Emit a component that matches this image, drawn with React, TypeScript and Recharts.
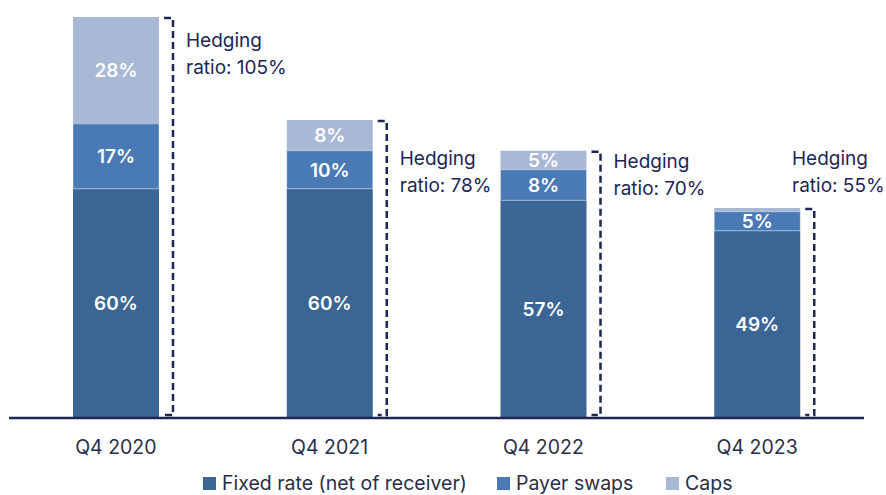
import React from 'react';
import { BarChart, Bar, XAxis, YAxis, LabelList } from 'recharts';

const quarters = ['Q4 2020', 'Q4 2021', 'Q4 2022', 'Q4 2023'];
const fixedRate = [60, 60, 57, 49];
const payerSwaps = [17, 10, 8, 5];
const caps = [28, 8, 5, 1];
const hedgingRatio = [105, 78, 70, 55];

const COLORS = {
  fixed: '#3b6594',
  payer: '#4a7ab6',
  caps: '#a8b8d5',
  navy: '#1d2655',
  text: '#2a2e48',
};

const FONT = 'Inter, "Noto Sans", sans-serif';
const W = 886;
const H = 495;

const data = quarters.map((q, i) => ({
  name: q,
  fixed: fixedRate[i],
  payer: payerSwaps[i],
  caps: caps[i],
  ratio: hedgingRatio[i],
}));

// fixed-rate segment plus the dashed bracket and "Hedging ratio" note
const FixedShape = (props: any) => {
  const { x, y, width, height, payload } = props;
  const base = y + height;
  const ppu = height / payload.fixed;
  const top = base - payload.ratio * ppu;
  const bx = x + width + 14;
  const tx = Math.min(bx + 13, W - 94);
  const level = base - 68 * ppu;
  let line1 = level;
  if (payload.ratio >= 100) line1 = top + 23;
  else if (top + 11 > level && top + 11 < level + 20) line1 = top + 11;
  return (
    <g>
      <rect x={x} y={y} width={width} height={height} fill={COLORS.fixed} />
      <path
        d={`M${x + width + 5},${top + 1} H${bx} V${base - 3} H${x + width + 5}`}
        fill="none"
        stroke={COLORS.navy}
        strokeWidth={2.5}
        strokeDasharray="7 4"
      />
      <text x={tx} y={line1} dominantBaseline="central" fill={COLORS.navy} fontSize={19} fontFamily={FONT}>
        Hedging
      </text>
      <text x={tx} y={line1 + 27} dominantBaseline="central" fill={COLORS.navy} fontSize={19} fontFamily={FONT}>
        {`ratio: ${payload.ratio}%`}
      </text>
    </g>
  );
};

const fmt = (v: any) => (Number(v) >= 3 ? `${v}%` : '');

const labelStyle = { fill: '#ffffff', fontSize: 19, fontWeight: 600, fontFamily: FONT };

const legendItems = [
  { name: 'Fixed rate (net of receiver)', color: COLORS.fixed, left: 203 },
  { name: 'Payer swaps', color: COLORS.payer, left: 497 },
  { name: 'Caps', color: COLORS.caps, left: 666 },
];

export default function App() {
  return (
    <div style={{ position: 'absolute', left: 0, top: 0, width: W, height: H, background: '#fff', overflow: 'hidden' }}>
      <BarChart width={W} height={H} data={data} margin={{ top: 17, right: 22, left: 9, bottom: 27 }}>
        <XAxis
          dataKey="name"
          height={50}
          tickLine={false}
          tickSize={0}
          tickMargin={22}
          axisLine={{ stroke: COLORS.navy, strokeWidth: 2.5 }}
          tick={{ fill: COLORS.text, fontSize: 19.5, fontFamily: FONT }}
        />
        <YAxis hide domain={[0, 105]} />
        <Bar dataKey="fixed" stackId="a" barSize={86} shape={FixedShape} isAnimationActive={false}>
          <LabelList dataKey="fixed" position="center" formatter={fmt} style={labelStyle} />
        </Bar>
        <Bar dataKey="payer" stackId="a" barSize={86} fill={COLORS.payer} stroke="#ffffff" strokeOpacity={0.35} strokeWidth={1} isAnimationActive={false}>
          <LabelList dataKey="payer" position="center" formatter={fmt} style={labelStyle} />
        </Bar>
        <Bar dataKey="caps" stackId="a" barSize={86} fill={COLORS.caps} isAnimationActive={false}>
          <LabelList dataKey="caps" position="center" formatter={fmt} style={labelStyle} />
        </Bar>
      </BarChart>
      {legendItems.map((item) => (
        <div
          key={item.name}
          style={{
            position: 'absolute',
            left: item.left,
            top: 472,
            height: 23,
            display: 'flex',
            alignItems: 'center',
            fontFamily: FONT,
            fontSize: 19.5,
            lineHeight: '23px',
            color: COLORS.text,
            whiteSpace: 'nowrap',
          }}
        >
          <div style={{ width: 13, height: 13, background: item.color, marginRight: 6 }} />
          <span>{item.name}</span>
        </div>
      ))}
    </div>
  );
}
